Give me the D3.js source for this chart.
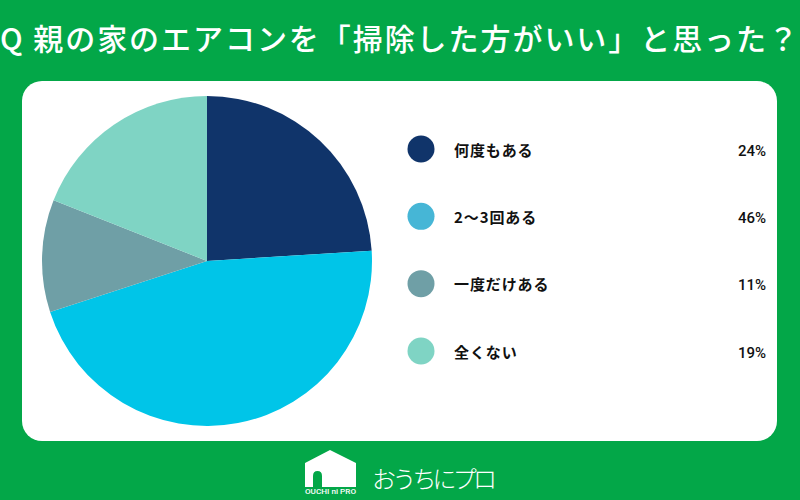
<!DOCTYPE html>
<html><head><meta charset="utf-8">
<script src="https://cdn.jsdelivr.net/npm/d3@7"></script>
<style>html,body{margin:0;padding:0;background:#03a748;overflow:hidden}svg{display:block}text{font-family:"Noto Sans CJK JP","Noto Sans",sans-serif}</style>
</head><body><svg id="c" width="800" height="500"></svg>
<script>
const title = "Q 親の家のエアコンを「掃除した方がいい」と思った？";
const categories = ["何度もある","2〜3回ある","一度だけある","全くない"];
const values = [24,46,11,19];
const pieColors = ["#10346a","#00c5e8","#6f9fa6","#7fd4c4"];
const legendColors = ["#10346a","#46b6d6","#6f9fa6","#7fd4c4"];
const logoMain = "おうちにプロ";
const logoSub = "OUCHI ni PRO";

const svg = d3.select("#c");
svg.append("rect").attr("width",800).attr("height",500).attr("fill","#03a748");
svg.append("text").attr("x",0).attr("y",50).attr("font-size",30).attr("font-weight",500).attr("fill","#fff")
  .attr("textLength",798).attr("lengthAdjust","spacing").text(title);
svg.append("rect").attr("x",22).attr("y",81).attr("width",755).attr("height",360).attr("rx",20).attr("fill","#fff");

const cx=207, cy=261, R=165;
const pie = d3.pie().sort(null).value(d=>d);
const arc = d3.arc().innerRadius(0).outerRadius(R);
svg.append("g").attr("transform",`translate(${cx},${cy})`)
  .selectAll("path").data(pie(values)).join("path")
  .attr("d",arc).attr("fill",(d,i)=>pieColors[i]);

const y = d3.scalePoint().domain(categories).range([149,351]);
const lg = svg.append("g").selectAll("g").data(categories).join("g")
  .attr("transform",d=>`translate(0,${y(d)})`);
lg.append("circle").attr("cx",421).attr("cy",0).attr("r",13.5).attr("fill",(d,i)=>legendColors[i]);
lg.append("text").attr("x",454).attr("y",6.5).attr("font-size",15).attr("font-weight",700)
  .attr("letter-spacing",0.9).attr("fill","#111").text(d=>d);
lg.append("text").attr("x",766).attr("y",6.5).attr("text-anchor","end").attr("font-size",15)
  .style("font-family","Roboto,sans-serif").attr("font-weight",500).attr("fill","#111").text((d,i)=>values[i]+"%");

// logo: house with arched door
const logo = svg.append("g");
logo.append("path").attr("fill-rule","evenodd").attr("fill","#fff")
  .attr("d","M305 463 L330 450 L356 463 L356 487 L322 487 L322 476 Q322 471 317.5 471 Q313 471 313 476 L313 487 L305 487 Z");
logo.append("text").attr("x",305).attr("y",494).attr("font-size",8).attr("font-weight",500).attr("fill","#fff")
  .attr("textLength",51).attr("lengthAdjust","spacingAndGlyphs").style("font-family","Roboto,sans-serif").text(logoSub);
logo.append("text").attr("x",372).attr("y",488).attr("font-size",24).attr("font-weight",300).attr("fill","#fff")
  .attr("textLength",125).attr("lengthAdjust","spacing").text(logoMain);
</script></body></html>
